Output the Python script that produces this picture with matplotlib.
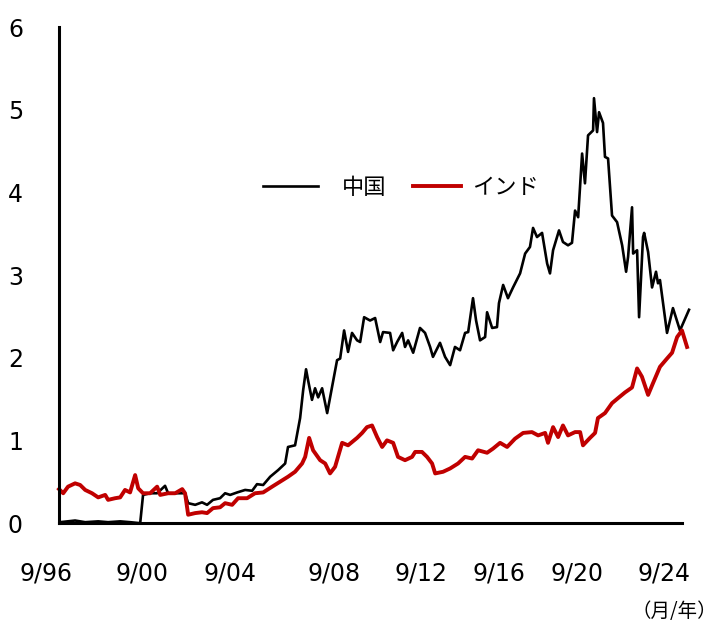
import matplotlib
matplotlib.use("Agg")
from matplotlib import pyplot as plt
from matplotlib.lines import Line2D

plt.rcParams['font.family'] = ['DejaVu Sans', 'Noto Sans CJK JP']

# China (decimal year, value)
china_x = [1996.75, 1997.11, 1997.43, 1997.89, 1998.48, 1998.93, 1999.48, 1999.93,
           2000.30, 2000.39, 2000.52, 2000.84, 2001.16, 2001.52, 2001.66, 2002.11,
           2002.43, 2002.57, 2002.89, 2003.20, 2003.43, 2003.70, 2004.02, 2004.25,
           2004.48, 2004.80, 2005.16, 2005.48, 2005.70, 2005.98, 2006.30, 2006.66,
           2006.98, 2007.11, 2007.43, 2007.66, 2007.80, 2007.93, 2008.02, 2008.20,
           2008.34, 2008.48, 2008.66, 2008.89, 2009.11, 2009.34, 2009.48, 2009.66,
           2009.84, 2010.02, 2010.25, 2010.39, 2010.57, 2010.84, 2011.07, 2011.30,
           2011.43, 2011.75, 2011.89, 2012.07, 2012.30, 2012.43, 2012.57, 2012.80,
           2013.11, 2013.34, 2013.57, 2013.70, 2014.02, 2014.25, 2014.48, 2014.70,
           2014.93, 2015.16, 2015.30, 2015.52, 2015.66, 2015.84, 2016.07, 2016.16,
           2016.39, 2016.61, 2016.70, 2016.89, 2017.11, 2017.34, 2017.66, 2017.89,
           2018.11, 2018.25, 2018.43, 2018.66, 2018.89, 2019.02, 2019.16, 2019.43,
           2019.61, 2019.84, 2020.02, 2020.16, 2020.30, 2020.48, 2020.61, 2020.75,
           2020.98, 2021.02, 2021.16, 2021.25, 2021.43, 2021.52, 2021.66, 2021.84,
           2022.07, 2022.30, 2022.48, 2022.57, 2022.75, 2022.80, 2022.98, 2023.07,
           2023.25, 2023.30, 2023.48, 2023.66, 2023.84, 2023.93, 2024.02, 2024.34,
           2024.61, 2024.93, 2025.34]
china_y = [0.01, 0.02, 0.03, 0.01, 0.02, 0.01, 0.02, 0.01,
           0.00, 0.00, 0.34, 0.36, 0.36, 0.45, 0.36, 0.36,
           0.36, 0.24, 0.22, 0.25, 0.22, 0.28, 0.30, 0.36,
           0.34, 0.37, 0.40, 0.39, 0.47, 0.46, 0.56, 0.64,
           0.72, 0.92, 0.94, 1.27, 1.61, 1.86, 1.73, 1.49,
           1.63, 1.52, 1.63, 1.33, 1.64, 1.97, 1.99, 2.33,
           2.07, 2.30, 2.21, 2.19, 2.49, 2.45, 2.48, 2.19,
           2.31, 2.30, 2.09, 2.19, 2.30, 2.13, 2.21, 2.06,
           2.36, 2.30, 2.13, 2.01, 2.18, 2.01, 1.91, 2.13,
           2.09, 2.30, 2.31, 2.72, 2.45, 2.21, 2.25, 2.55,
           2.36, 2.37, 2.66, 2.88, 2.72, 2.85, 3.02, 3.26,
           3.34, 3.57, 3.46, 3.51, 3.14, 3.02, 3.30, 3.54,
           3.40, 3.36, 3.39, 3.78, 3.70, 4.47, 4.11, 4.69,
           4.75, 5.14, 4.73, 4.97, 4.84, 4.43, 4.41, 3.72,
           3.64, 3.36, 3.04, 3.22, 3.82, 3.26, 3.30, 2.49,
           3.46, 3.51, 3.28, 2.85, 3.04, 2.90, 2.94, 2.30,
           2.60, 2.33, 2.58]

# India (decimal year, value)
india_x = [1996.70, 1996.89, 1997.11, 1997.43, 1997.66, 1997.89, 1998.20, 1998.48,
           1998.80, 1998.93, 1999.25, 1999.48, 1999.70, 1999.93, 2000.16, 2000.30,
           2000.52, 2000.84, 2001.16, 2001.30, 2001.66, 2001.98, 2002.30, 2002.43,
           2002.57, 2002.89, 2003.20, 2003.43, 2003.70, 2004.02, 2004.25, 2004.57,
           2004.84, 2005.25, 2005.61, 2005.98, 2006.39, 2006.75, 2007.11, 2007.43,
           2007.75, 2007.89, 2008.07, 2008.25, 2008.57, 2008.80, 2009.02, 2009.25,
           2009.57, 2009.84, 2010.25, 2010.48, 2010.70, 2010.93, 2011.16, 2011.39,
           2011.61, 2011.89, 2012.11, 2012.43, 2012.75, 2012.89, 2013.20, 2013.43,
           2013.66, 2013.80, 2014.16, 2014.48, 2014.84, 2015.16, 2015.48, 2015.75,
           2016.16, 2016.43, 2016.75, 2017.07, 2017.43, 2017.80, 2018.20, 2018.48,
           2018.80, 2018.93, 2019.16, 2019.39, 2019.61, 2019.84, 2020.16, 2020.39,
           2020.52, 2020.84, 2021.07, 2021.20, 2021.52, 2021.84, 2022.11, 2022.43,
           2022.75, 2022.98, 2023.20, 2023.48, 2023.70, 2024.02, 2024.34, 2024.57,
           2024.80, 2025.02, 2025.25]
india_y = [0.41, 0.36, 0.44, 0.48, 0.46, 0.40, 0.36, 0.31,
           0.34, 0.28, 0.30, 0.31, 0.40, 0.37, 0.58, 0.42,
           0.36, 0.36, 0.44, 0.34, 0.36, 0.36, 0.41, 0.36,
           0.10, 0.12, 0.13, 0.12, 0.18, 0.19, 0.24, 0.22,
           0.30, 0.30, 0.36, 0.37, 0.44, 0.50, 0.56, 0.62,
           0.72, 0.80, 1.03, 0.88, 0.76, 0.72, 0.60, 0.68,
           0.97, 0.94, 1.03, 1.09, 1.16, 1.18, 1.04, 0.92,
           1.00, 0.97, 0.80, 0.76, 0.80, 0.86, 0.86, 0.80,
           0.72, 0.60, 0.62, 0.66, 0.72, 0.80, 0.78, 0.88,
           0.85, 0.90, 0.97, 0.92, 1.02, 1.09, 1.10, 1.06,
           1.09, 0.97, 1.16, 1.04, 1.18, 1.06, 1.10, 1.10,
           0.94, 1.03, 1.09, 1.27, 1.33, 1.45, 1.51, 1.58,
           1.64, 1.87, 1.77, 1.55, 1.69, 1.89, 1.99, 2.06,
           2.25, 2.33, 2.13]

tick_pos = [1996.1, 2000.45, 2004.45, 2009.2, 2013.15, 2016.7, 2020.25, 2024.2]
tick_labels = ['9/96', '9/00', '9/04', '9/08', '9/12', '9/16', '9/20', '9/24']

fig = plt.figure(figsize=(7.19, 6.23), dpi=100)
ax = fig.add_axes([0.0821, 0.1605, 0.8664, 0.796])

l1, = ax.plot(china_x, china_y, color='black', lw=1.9, label='中国', clip_on=False)
l2, = ax.plot(india_x, india_y, color='#C00000', lw=2.8, label='インド', clip_on=False)

ax.set_xlim(1996.70, 2025.02)
ax.set_ylim(0, 6)
ax.set_yticks([0, 1, 2, 3, 4, 5, 6])
ax.set_xticks([])
ax.tick_params(axis='both', length=0, labelsize=17)
ax.tick_params(axis='y', pad=26)

# x labels sit where the original chart put them
for xp, lab in zip(tick_pos, tick_labels):
    ax.text(xp, -0.101, lab, transform=ax.get_xaxis_transform(), ha='center',
            va='center', fontsize=17, clip_on=False)

for s in ['top', 'right']:
    ax.spines[s].set_visible(False)
for s in ['left', 'bottom']:
    ax.spines[s].set_linewidth(2.2)

# two legends so each entry gets its own spacing
leg_font = {'family': ['Noto Sans CJK JP'], 'size': 16}
leg1 = ax.legend(handles=[l1], loc='center left', bbox_to_anchor=(0.327, 0.677),
                 frameon=False, handlelength=2.48, handletextpad=1.1,
                 borderpad=0, borderaxespad=0, prop=leg_font)
ax.add_artist(leg1)
ax.legend(handles=[l2], loc='center left', bbox_to_anchor=(0.568, 0.677),
          frameon=False, handlelength=2.16, handletextpad=0.5,
          borderpad=0, borderaxespad=0, prop=leg_font)

fig.text(0.998, 0.002, '（月/年）', ha='right', va='bottom', fontsize=14,
         family=['Noto Sans CJK JP', 'DejaVu Sans'])

fig.savefig('out.png', dpi=100)
